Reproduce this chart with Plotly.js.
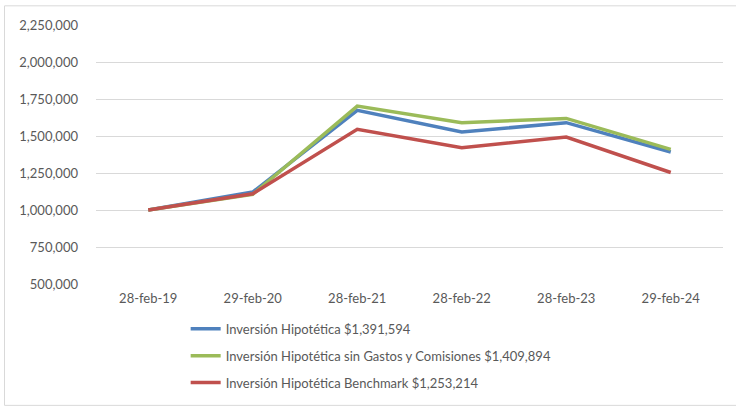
<!DOCTYPE html>
<html>
<head>
<meta charset="utf-8">
<script src="https://cdn.plot.ly/plotly-3.0.1.min.js"></script>
<style>html,body{margin:0;padding:0;background:#fff;}#chart{width:736px;height:408px;}</style>
</head>
<body>
<div id="chart"></div>
<script>
const categories = ["28-feb-19", "29-feb-20", "28-feb-21", "28-feb-22", "28-feb-23", "29-feb-24"];
const inversion = [1000000, 1121000, 1673000, 1527000, 1590000, 1391594];
const sinGastos = [1000000, 1106000, 1702000, 1590000, 1619000, 1409894];
const benchmark = [1000000, 1110000, 1545000, 1421000, 1493000, 1253214];
const seriesNames = [
  "Inversión Hipotética $1,391,594",
  "Inversión Hipotética sin Gastos y Comisiones $1,409,894",
  "Inversión Hipotética Benchmark $1,253,214"
];
const yTicks = [500000, 750000, 1000000, 1250000, 1500000, 1750000, 2000000, 2250000];

const colors = ["#4F81BD", "#9BBB59", "#C0504D"];
const data = [inversion, sinGastos, benchmark].map((vals, i) => ({
  type: "scatter",
  mode: "lines",
  x: categories,
  y: vals,
  name: seriesNames[i],
  legendgroup: "g" + i,
  line: {color: colors[i], width: 3.5},
  hoverinfo: "skip"
}));

const layout = {
  width: 736,
  height: 408,
  margin: {l: 96, r: 13, t: 25, b: 124, autoexpand: false},
  paper_bgcolor: "#fff",
  plot_bgcolor: "#fff",
  font: {family: "Lato, 'Open Sans', sans-serif", size: 13, color: "#595959"},
  showlegend: true,
  legend: {
    orientation: "v",
    x: 0.143,
    y: -0.115,
    xanchor: "left",
    yanchor: "top",
    tracegroupgap: 7,
    font: {size: 13, color: "#595959"},
    bgcolor: "rgba(0,0,0,0)"
  },
  xaxis: {
    type: "category",
    showgrid: false,
    showline: false,
    zeroline: false,
    ticks: "",
    ticklabelstandoff: 5,
    tickfont: {size: 13, color: "#595959"},
    range: [-0.5, 5.5],
    fixedrange: true
  },
  yaxis: {
    range: [500000, 2250000],
    tickvals: yTicks,
    tickformat: ",",
    showgrid: true,
    gridcolor: "#D9D9D9",
    gridwidth: 1,
    zeroline: false,
    showline: false,
    ticks: "",
    ticklabelstandoff: 17,
    tickfont: {size: 13, color: "#595959"},
    fixedrange: true
  },
  shapes: [{
    type: "rect",
    xref: "paper", yref: "paper",
    x0: -0.1459, x1: 1.03, y0: -0.4686, y1: 1.074,
    line: {color: "#D9D9D9", width: 1},
    fillcolor: "rgba(0,0,0,0)",
    layer: "below"
  }]
};

Plotly.newPlot("chart", data, layout, {displayModeBar: false, staticPlot: true});
</script>
</body>
</html>
